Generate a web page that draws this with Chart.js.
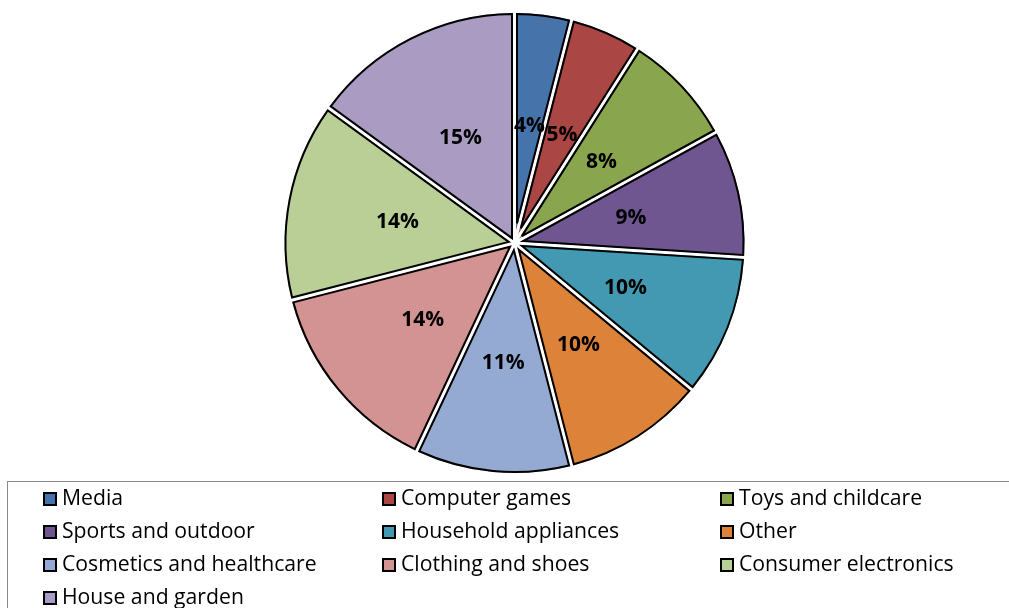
<!DOCTYPE html>
<html>
<head>
<meta charset="utf-8">
<script src="https://cdn.jsdelivr.net/npm/chart.js@4.4.1/dist/chart.umd.min.js"></script>
<style>
  html, body { margin: 0; padding: 0; background: #fff; }
  #wrap { position: relative; width: 1009px; height: 608px; overflow: hidden; }
  #legend {
    position: absolute; left: 7px; top: 481px; width: 1100px; height: 200px;
    border-left: 1px solid #8a8a8a; border-top: 1px solid #8a8a8a;
    font-family: "Open Sans", "Noto Sans", sans-serif; font-size: 21.2px; color: #000;
  }
  .item { position: absolute; height: 24px; line-height: 24px; white-space: nowrap; }
  .box { display: inline-block; width: 10px; height: 10px; border: 2px solid #000; margin-right: 5px; vertical-align: -1px; }
</style>
</head>
<body>
<div id="wrap">
  <canvas id="PieChart" width="1009" height="608"></canvas>
  <div id="legend"></div>
</div>
<script>
// categories and shares (percent)
const categories = ['Media', 'Computer games', 'Toys and childcare', 'Sports and outdoor',
  'Household appliances', 'Other', 'Cosmetics and healthcare', 'Clothing and shoes',
  'Consumer electronics', 'House and garden'];
const shares = [4, 5, 8, 9, 10, 10, 11, 14, 14, 15];
const sliceColors = ['#4673aa', '#aa4644', '#89a64e', '#6f5691', '#4299b1',
  '#dd8339', '#95aad3', '#d39392', '#b9cf96', '#a99bc1'];

// black outline inside each slice, leaving the white border as a gap
const outlinePlugin = {
    id: 'sliceOutline',
    afterDatasetsDraw(chart) {
        const ctx = chart.ctx;
        const meta = chart.getDatasetMeta(0);
        const g = 2.5;
        ctx.save();
        ctx.strokeStyle = '#000';
        ctx.lineWidth = 2;
        ctx.lineJoin = 'miter';
        ctx.miterLimit = 4;
        meta.data.forEach(function(arc) {
            const p = arc.getProps(['x', 'y', 'startAngle', 'endAngle', 'outerRadius'], true);
            const a1 = p.startAngle, a2 = p.endAngle;
            const mid = (a1 + a2) / 2;
            const ro = p.outerRadius - g;
            const d = g / Math.sin((a2 - a1) / 2);
            const da = Math.asin(g / ro);
            ctx.beginPath();
            ctx.moveTo(p.x + Math.cos(mid) * d, p.y + Math.sin(mid) * d);
            ctx.lineTo(p.x + Math.cos(a1 + da) * ro, p.y + Math.sin(a1 + da) * ro);
            ctx.arc(p.x, p.y, ro, a1 + da, a2 - da);
            ctx.closePath();
            ctx.stroke();
        });
        ctx.restore();
    }
};

// draw the % labels at about half radius
const labelPlugin = {
    id: 'pctLabels',
    afterDatasetsDraw(chart) {
        const ctx = chart.ctx;
        const meta = chart.getDatasetMeta(0);
        ctx.save();
        ctx.font = 'bold 21px "Open Sans", "Noto Sans", sans-serif';
        ctx.fillStyle = '#000';
        ctx.textAlign = 'center';
        ctx.textBaseline = 'middle';
        meta.data.forEach(function(arc, i) {
            const p = arc.getProps(['x', 'y', 'startAngle', 'endAngle', 'outerRadius'], true);
            const mid = (p.startAngle + p.endAngle) / 2;
            const r = p.outerRadius * 0.515;
            ctx.fillText(shares[i] + '%', p.x + Math.cos(mid) * r, p.y + Math.sin(mid) * r + 1);
        });
        ctx.restore();
    }
};

const ctx = document.getElementById('PieChart').getContext('2d');
new Chart(ctx, {
    type: 'pie',
    data: {
        labels: categories,
        datasets: [{
            data: shares,
            backgroundColor: sliceColors,
            borderColor: '#fff',
            borderWidth: 3
        }]
    },
    options: {
        responsive: false,
        animation: false,
        layout: { padding: { top: 10, bottom: 132, left: 20, right: 0 } },
        plugins: {
            legend: { display: false },
            tooltip: { enabled: false }
        }
    },
    plugins: [outlinePlugin, labelPlugin]
});

// legend, three columns
const legend = document.getElementById('legend');
const colX = [35, 374, 712];
categories.forEach(function(name, i) {
    const el = document.createElement('div');
    el.className = 'item';
    el.style.left = colX[i % 3] + 'px';
    el.style.top = (3 + Math.floor(i / 3) * 33) + 'px';
    el.innerHTML = '<span class="box" style="background:' + sliceColors[i] + '"></span>' + name;
    legend.appendChild(el);
});
</script>
</body>
</html>
